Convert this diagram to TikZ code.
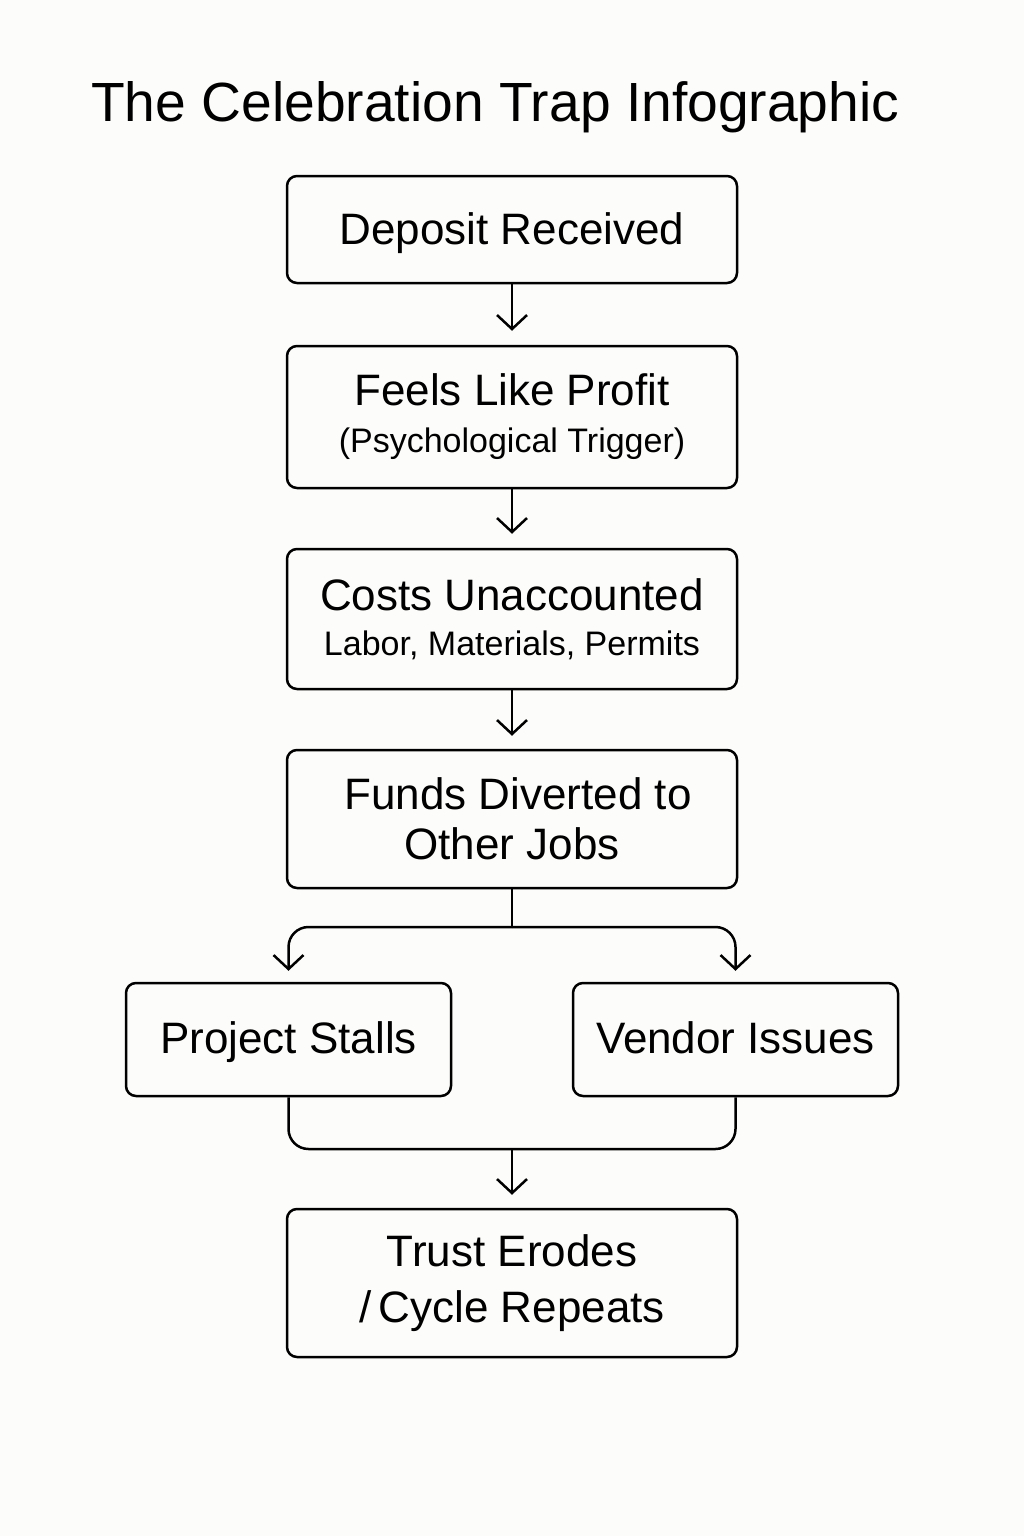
\documentclass[tikz,border=0pt]{standalone}
\usepackage{fontspec}
\setmainfont{Liberation Sans}
\usetikzlibrary{arrows.meta}
\definecolor{paper}{HTML}{FCFCFA}
\begin{document}
\begin{tikzpicture}[x=0.5pt, y=-0.5pt, line width=1.25pt,
  box/.style={draw, rounded corners=5pt, minimum width=225pt, inner sep=0pt,
    align=center, font=\fontsize{22}{25}\selectfont},
  halfbox/.style={box, minimum width=162.5pt, minimum height=56.5pt,
    text height=17.5pt, text depth=4pt},
  arr/.style={-{Straight Barb[length=7pt,width=15pt]}}]
\def\subfont{\fontsize{17}{22}\selectfont}
% Hintergrund und Bildrand
\fill[paper] (0,0) rectangle (1024,1536);
\useasboundingbox (0,0) rectangle (1024,1536);
% Titel
\node[anchor=base west, inner sep=0pt, font=\fontsize{27.6}{30}\selectfont]
  (title) at (90,122) {The Celebration Trap Infographic};
% Kaesten
\node[box, minimum height=53.5pt, text height=17.5pt, text depth=3pt]
  (dep) at (512,229.5) {Deposit Received};
\node[box, minimum height=71pt, font=\fontsize{22}{23.5}\selectfont]
  (feel) at (512,417) {Feels Like Profit\\{\subfont(Psychological Trigger)}};
\node[box, minimum height=70pt, font=\fontsize{22}{22.5}\selectfont]
  (cost) at (512,619) {Costs Unaccounted\\{\subfont Labor, Materials, Permits}};
\node[box, minimum height=69pt] (fund) at (512,819) {\ Funds Diverted to\\Other Jobs};
\node[halfbox] (stall) at (288.5,1039.5) {Project Stalls};
\node[halfbox] (vend)  at (735.5,1039.5) {Vendor Issues};
\node[box, minimum height=74pt, font=\fontsize{22}{28}\selectfont]
  (trust) at (512,1283) {Trust Erodes\\/\,Cycle Repeats};
% Verzweigung und Zusammenfuehrung
\coordinate (split) at (512,927);
\coordinate (join)  at (512,1149);
% Pfeile
\draw[arr, shorten >=7pt] (dep) -- (feel);
\draw[arr, shorten >=7pt] (feel) -- (cost);
\draw[arr, shorten >=6.5pt] (cost) -- (fund);
\draw (fund) -- (split);
\draw[arr, rounded corners=10pt, shorten >=5.5pt] (split) -| (stall.north);
\draw[arr, rounded corners=10pt, shorten >=5.5pt] (split) -| (vend.north);
\draw[rounded corners=10pt] (stall.south) |- (join) -| (vend.south);
\draw[arr, shorten >=6.5pt] (join) -- (trust);
\end{tikzpicture}
\end{document}
